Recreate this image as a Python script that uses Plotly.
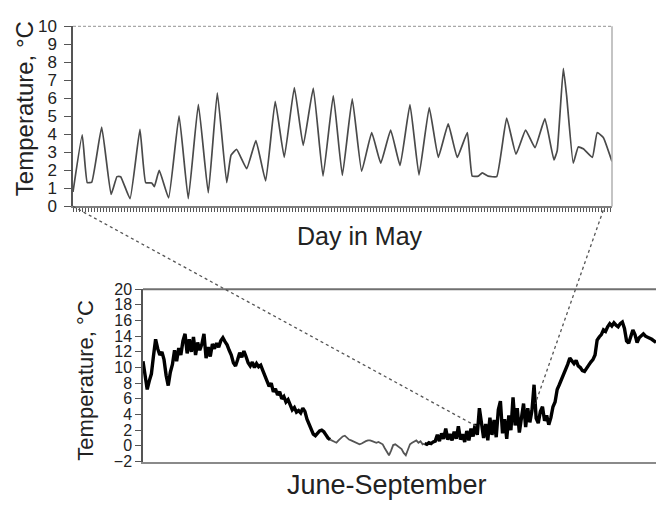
import plotly.graph_objects as go

# ---- May: 4-hourly sampled turning points (day of month, degC) ----
may_day = [0.0, 0.53, 0.82, 1.08, 1.65, 2.19, 2.53, 2.74, 3.28, 3.85, 4.18, 4.53, 4.68,
           4.96, 5.5, 6.1, 6.63, 7.21, 7.78, 8.3, 8.84, 9.09, 9.41, 9.99, 10.52, 11.08,
           11.63, 12.15, 12.73, 13.24, 13.82, 14.38, 14.97, 15.49, 16.06, 16.6, 17.18,
           17.7, 18.27, 18.81, 19.38, 19.9, 20.49, 21.01, 21.58, 22.1, 22.68, 22.96,
           23.31, 23.54, 23.88, 24.37, 24.94, 25.48, 26.03, 26.57, 27.14, 27.66, 27.85,
           28.2, 28.39, 28.77, 29.06, 29.35, 29.87, 30.15, 30.5, 31.0]
may_temp = [0.8, 3.97, 1.32, 1.35, 4.4, 0.66, 1.65, 1.65, 0.43, 4.28, 1.32, 1.3, 1.1,
            2.0, 0.47, 5.03, 0.43, 5.67, 0.75, 6.3, 1.32, 2.84, 3.17, 2.1, 3.65, 1.41,
            5.83, 2.72, 6.6, 3.38, 6.57, 1.68, 6.15, 1.72, 5.97, 1.95, 4.1,
            2.4, 4.24, 2.27, 5.65, 1.74, 5.49, 2.72, 4.58, 2.72, 4.1, 1.68,
            1.68, 1.86, 1.68, 1.65, 4.9, 2.9, 4.24, 3.26, 4.87, 2.58, 3.1,
            7.67, 6.15, 2.4, 3.3, 3.2, 2.72, 4.1, 3.83, 2.49]

# ---- June-September: half-daily readings (degC) ----
season_temp = [
    10.8, 8.6, 7.2, 8.3, 9.2, 11.5, 13.6, 12.4, 11.6, 12.0,
    11.0, 9.0, 7.7, 9.4, 10.4, 12.2, 10.8, 12.5, 11.6, 13.4,
    14.3, 11.8, 13.6, 12.0, 13.9, 11.6, 13.2, 12.2, 13.0, 14.3,
    11.2, 12.6, 11.4, 13.0, 12.4, 13.1, 12.6, 13.4, 13.8, 13.3,
    12.9, 12.2, 11.6, 10.6, 10.2, 11.0, 11.9, 11.3, 12.1, 11.4,
    10.6, 10.2, 10.7, 10.0, 10.5, 10.1, 10.3, 9.6, 9.0, 8.2,
    7.6, 8.0, 6.9, 7.3, 6.5, 6.9, 6.0, 6.3, 5.6, 5.9,
    5.2, 4.6, 4.9, 4.3, 4.5, 4.2, 4.8, 4.4, 3.4, 2.8,
    2.2, 1.5, 1.3, 1.6, 1.9, 2.0, 1.8, 1.4, 1.0, 0.8,
    0.7, 0.5, 0.4, 0.7, 1.0, 1.2, 1.3, 1.0, 0.8, 0.7,
    0.6, 0.4, 0.3, 0.2, 0.3, 0.5, 0.6, 0.7, 0.7, 0.6,
    0.5, 0.4, 0.5, 0.4, 0.2, -0.3, -0.8, -1.2, -0.6, 0.1,
    0.2, 0.0, -0.1, -0.4, -0.9, -1.2, -0.5, 0.2, 0.4, 0.6,
    0.7, 0.4, 0.6, 0.2, 0.3, 0.2, 0.4, 0.3, 0.5, 0.6,
    1.4, 0.6, 1.6, 0.9, 2.2, 0.8, 1.5, 0.7, 1.8, 0.9,
    2.5, 0.8, 1.5, 0.5, 1.9, 0.7, 2.2, 1.2, 2.8, 1.4,
    4.8, 3.2, 1.0, 2.8, 0.7, 3.6, 1.4, 3.3, 1.1, 4.6,
    5.7, 1.6, 3.4, 0.9, 3.9, 2.0, 6.2, 2.6, 4.8, 1.7,
    3.6, 5.4, 2.4, 4.8, 3.0, 4.5, 7.8, 3.5, 2.9, 4.4,
    5.0, 3.2, 3.9, 2.7, 3.6, 5.0, 5.6, 7.2, 7.8, 8.4,
    9.0, 9.8, 10.4, 11.2, 10.9, 10.5, 10.9, 10.2, 10.0, 9.6,
    9.5, 10.0, 10.3, 10.7, 11.0, 11.6, 13.5, 13.9, 14.2, 14.8,
    14.6, 15.2, 15.6, 15.3, 15.7, 15.4, 15.2, 15.6, 15.8, 15.0,
    13.4, 13.1, 14.0, 14.8, 14.2, 13.2, 13.8, 14.0, 14.3, 14.0,
    13.9, 13.7, 13.6, 13.4, 13.2,
]
season_day = [i * 0.5 for i in range(len(season_temp))]
calm_start, calm_end = 89, 134          # quiet stretch drawn in grey

# where the May window sits on the seasonal curve (day, degC)
window_left = (79.3, 2.5)
window_right = (93.3, 5.4)

FONT = "Arial, Liberation Sans, sans-serif"
TXT = "#222222"
W, H = 656, 511

top_px = (73, 612)                      # plot-area edges of the May panel, px
top_dom_x = [top_px[0] / W, top_px[1] / W]
top_dom_y = [1 - 205 / H, 1 - 18 / H]
bot_dom_x = [143 / W, 1.0]
bot_dom_y = [1 - 470 / H, 1 - 291 / H]
top_rx, top_ry = [0, 31], [0, 10]
bot_rx, bot_ry = [0, 122], [-2, 20]

# fine category ticks along the May axis, three pixels apart
minor_step = 3 * (top_rx[1] - top_rx[0]) / (top_px[1] - top_px[0])


def to_paper(v, dom, rng):
    return dom[0] + (v - rng[0]) / (rng[1] - rng[0]) * (dom[1] - dom[0])


fig = go.Figure()

fig.add_trace(go.Scatter(x=may_day, y=may_temp, mode="lines",
                         line=dict(color="#4a4a4a", width=1.7, shape="spline", smoothing=0.35),
                         xaxis="x", yaxis="y", showlegend=False))

segments = [(0, calm_start + 1, "#000000", 3.4),
            (calm_start, calm_end + 1, "#555555", 1.8),
            (calm_end, len(season_temp), "#000000", 3.4)]
for a, b, col, w in segments:
    fig.add_trace(go.Scatter(x=season_day[a:b], y=season_temp[a:b], mode="lines",
                             line=dict(color=col, width=w),
                             xaxis="x2", yaxis="y2", showlegend=False))

fig.update_layout(
    width=W, height=H, autosize=False,
    margin=dict(l=0, r=0, t=0, b=0),
    paper_bgcolor="white", plot_bgcolor="white",
    font=dict(family=FONT, color=TXT),
    xaxis=dict(domain=top_dom_x, range=top_rx, anchor="y",
               showgrid=False, zeroline=False, showticklabels=False,
               showline=True, linecolor="#808080", linewidth=1.5,
               ticks="outside", ticklen=4, tickwidth=1, tickcolor="#555555",
               tickmode="linear", tick0=0, dtick=minor_step),
    yaxis=dict(domain=top_dom_y, range=top_ry, anchor="x",
               showgrid=False, zeroline=False,
               showline=True, linecolor="#555555", linewidth=1.5,
               ticks="outside", ticklen=7, tickwidth=1.2, tickcolor="#555555",
               tick0=0, dtick=1, tickfont=dict(size=17, color=TXT), ticklabelstandoff=4),
    xaxis2=dict(domain=bot_dom_x, range=bot_rx, anchor="y2",
                showgrid=False, zeroline=False, showticklabels=False,
                showline=True, linecolor="#8a8a8a", linewidth=1.5, ticks=""),
    yaxis2=dict(domain=bot_dom_y, range=bot_ry, anchor="x2",
                showgrid=False, zeroline=False,
                showline=True, linecolor="#555555", linewidth=1.5,
                ticks="outside", ticklen=6, tickwidth=1.2, tickcolor="#555555",
                tick0=-2, dtick=2, tickfont=dict(size=16, color=TXT)),
)

# panel borders
fig.add_shape(type="line", xref="x domain", yref="y domain", x0=0, x1=1, y0=1, y1=1,
              line=dict(color="#a8a8a8", width=1.3, dash="3px,2px"))
fig.add_shape(type="line", xref="x domain", yref="y domain", x0=1, x1=1, y0=0, y1=1,
              line=dict(color="#b0b0b0", width=1.5))
fig.add_shape(type="line", xref="x2 domain", yref="y2 domain", x0=0, x1=1, y0=1, y1=1,
              line=dict(color="#707070", width=2))

# dashed connectors from the May panel down to its place in the season
conn = dict(color="#555555", width=1.3, dash="3px,3px")
lx0 = to_paper(top_rx[0], top_dom_x, top_rx)
ly0 = to_paper(top_ry[0], top_dom_y, top_ry)
lx1 = to_paper(window_left[0], bot_dom_x, bot_rx)
ly1 = to_paper(window_left[1], bot_dom_y, bot_ry)
fig.add_shape(type="line", xref="paper", yref="paper", x0=lx0, y0=ly0, x1=lx1, y1=ly1, line=conn)
rx0 = to_paper(30.5, top_dom_x, top_rx)
ry0 = to_paper(top_ry[0], top_dom_y, top_ry) - 4 / H
rx1 = to_paper(window_right[0], bot_dom_x, bot_rx)
ry1 = to_paper(window_right[1], bot_dom_y, bot_ry)
fig.add_shape(type="line", xref="paper", yref="paper", x0=rx0, y0=ry0, x1=rx1, y1=ry1, line=conn)

# axis titles
def label(text, x, y, size, angle=0):
    fig.add_annotation(text=text, xref="paper", yref="paper", x=x / W, y=1 - y / H,
                       xanchor="center", yanchor="middle", showarrow=False,
                       textangle=angle, font=dict(size=size, family=FONT, color=TXT))

label("Temperature, °C", 24, 104, 24, -90)
label("Day in May", 360, 236, 25)
label("Temperature, °C", 86, 386, 22, -90)
label("June-September", 387, 494, 27)

fig.write_html("out.html")
